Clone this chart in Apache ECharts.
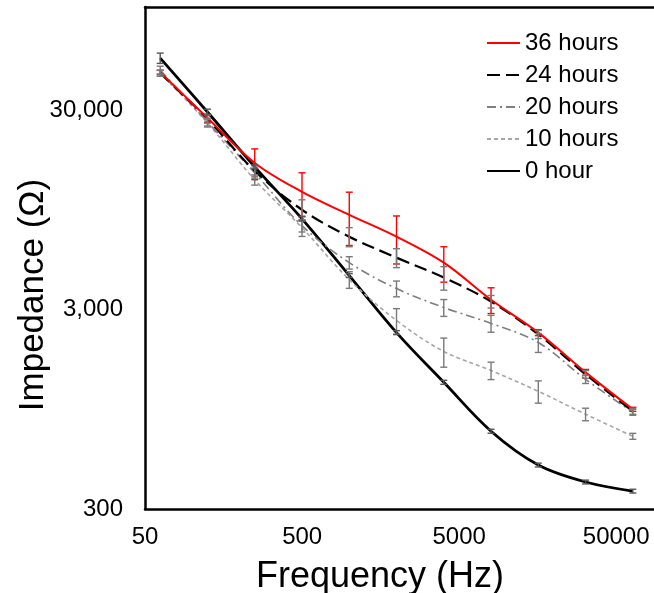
<!DOCTYPE html>
<html><head><meta charset="utf-8">
<script src="https://cdn.jsdelivr.net/npm/echarts@6/dist/echarts.min.js"></script>
<style>html,body{margin:0;padding:0;background:#fff}#c{width:654px;height:593px}</style>
</head><body><div id="c"></div>
<script>
const frequencies = [62.5, 125, 250, 500, 1000, 2000, 4000, 8000, 16000, 32000, 64000];
const seriesNames = ['36 hours', '24 hours', '20 hours', '10 hours', '0 hour'];
const imp36 = [47000, 27670, 16460, 11780, 9030, 7010, 5190, 3380, 2310, 1458, 951];
const err36 = [1100, 1300, 2900, 2900, 2700, 1900, 1050, 500, 80, 50, 22];
const imp24 = [46500, 27360, 15000, 9570, 7010, 5500, 4365, 3310, 2262, 1425, 930];
const err24 = [1600, 1300, 890, 1170, 770, 600, 590, 240, 106, 64, 32];
const imp20 = [48200, 26430, 14670, 7960, 5190, 3845, 3087, 2570, 2061, 1345, 919];
const err20 = [2200, 1200, 850, 560, 370, 350, 300, 250, 225, 63, 32];
const imp10 = [46500, 26130, 13530, 7780, 4265, 2658, 1858, 1491, 1171, 898, 696];
const err10 = [1500, 1200, 800, 750, 410, 390, 310, 150, 150, 65, 24];
const imp0 = [55350, 29670, 15720, 8620, 4470, 2310, 1300, 738, 499, 410, 369];
const err0 = [3300, 1000, 360, 200, 100, 53, 30, 17, 11, 9, 8];
const xTicks = [50, 500, 5000, 50000];
const xTickLabels = ['50', '500', '5000', '50000'];
const yTicks = [300, 3000, 30000];
const yTickLabels = ['300', '3,000', '30,000'];

const FONT = 'Liberation Sans, Arial, sans-serif';
const X_MIN = 50, X_MAX = 87300, Y_MIN = 300, Y_MAX = 100000;

function tickLabel(ticks, labels) {
  return function (v) {
    for (let i = 0; i < ticks.length; i++) {
      if (Math.abs(Math.log10(v / ticks[i])) < 0.02) return labels[i];
    }
    return '';
  };
}

function errRender(color) {
  return function (params, api) {
    const x = api.value(0), lo = api.value(1), hi = api.value(2);
    const p1 = api.coord([x, hi]), p2 = api.coord([x, lo]);
    const w = 3.5;
    const style = { stroke: color, lineWidth: 1.4, fill: null };
    return {
      type: 'group', children: [
        { type: 'line', shape: { x1: p1[0], y1: p1[1], x2: p2[0], y2: p2[1] }, style: style },
        { type: 'line', shape: { x1: p1[0] - w, y1: p1[1], x2: p1[0] + w, y2: p1[1] }, style: style },
        { type: 'line', shape: { x1: p2[0] - w, y1: p2[1], x2: p2[0] + w, y2: p2[1] }, style: style }
      ]
    };
  };
}

const groups = [
  { name: seriesNames[0], vals: imp36, errs: err36, color: '#ff0000', width: 2, type: 'solid', errColor: '#ff0000' },
  { name: seriesNames[1], vals: imp24, errs: err24, color: '#000000', width: 2.2, type: [13, 6], errColor: '#7a7a7a' },
  { name: seriesNames[2], vals: imp20, errs: err20, color: '#7f7f7f', width: 1.6, type: [9, 4, 2, 4], errColor: '#7a7a7a' },
  { name: seriesNames[3], vals: imp10, errs: err10, color: '#a6a6a6', width: 1.6, type: [4, 3], errColor: '#7a7a7a' },
  { name: seriesNames[4], vals: imp0, errs: err0, color: '#000000', width: 2.8, type: 'solid', errColor: '#555555' }
];

const series = [];
groups.forEach(function (g, gi) {
  series.push({
    name: g.name, type: 'line', smooth: 0.35, symbol: 'none', xAxisIndex: 0, yAxisIndex: 0,
    data: frequencies.map(function (f, i) { return [f, g.vals[i]]; }),
    lineStyle: { color: g.color, width: g.width, type: g.type },
    itemStyle: { color: g.color },
    z: 3 + (groups.length - gi)
  });
});
groups.forEach(function (g) {
  series.push({
    name: g.name + ' error', type: 'custom', renderItem: errRender(g.errColor), xAxisIndex: 0, yAxisIndex: 0,
    data: frequencies.map(function (f, i) { return [f, g.vals[i] - g.errs[i], g.vals[i] + g.errs[i]]; }),
    encode: { x: 0, y: [1, 2] }, z: 10, silent: true
  });
});

const borderLine = { show: true, onZero: false, lineStyle: { color: '#000', width: 2.5 } };

const chart = echarts.init(document.getElementById('c'), null, { renderer: 'canvas' });
chart.setOption({
  animation: false,
  backgroundColor: '#ffffff',
  grid: { left: 145, top: 7, right: 0, bottom: 84, show: false },
  xAxis: [{
    type: 'log', logBase: 10, min: X_MIN, max: X_MAX, interval: 1, position: 'bottom',
    axisLine: borderLine, axisTick: { show: false }, splitLine: { show: false },
    axisLabel: { formatter: tickLabel(xTicks, xTickLabels), fontSize: 24, fontFamily: FONT, color: '#000', margin: 16, showMaxLabel: false, showMinLabel: true }
  }, {
    type: 'log', logBase: 10, min: X_MIN, max: X_MAX, interval: 1, position: 'top',
    axisLine: borderLine, axisTick: { show: false }, splitLine: { show: false }, axisLabel: { show: false }
  }],
  yAxis: {
    type: 'log', logBase: 10, min: Y_MIN, max: Y_MAX, interval: 1, position: 'left',
    axisLine: borderLine, axisTick: { show: false }, splitLine: { show: false },
    axisLabel: { formatter: tickLabel(yTicks, yTickLabels), fontSize: 24, fontFamily: FONT, color: '#000', margin: 22, showMaxLabel: false, showMinLabel: true }
  },
  legend: {
    data: seriesNames, orient: 'vertical', left: 481, top: 26, padding: 5, itemWidth: 33, itemHeight: 2, itemGap: 8,
    selectedMode: false, itemStyle: { opacity: 0 },
    textStyle: { fontSize: 24, fontFamily: FONT, color: '#000', lineHeight: 24 }
  },
  graphic: [
    { type: 'text', x: 380, y: 577, style: { text: 'Frequency (Hz)', font: '36px ' + FONT, fill: '#000', textAlign: 'center', textVerticalAlign: 'middle' } },
    { type: 'text', x: 33, y: 295, rotation: Math.PI / 2, style: { text: 'Impedance (Ω)', font: '35px ' + FONT, fill: '#000', textAlign: 'center', textVerticalAlign: 'middle' } }
  ],
  series: series
});
</script>
</body></html>
